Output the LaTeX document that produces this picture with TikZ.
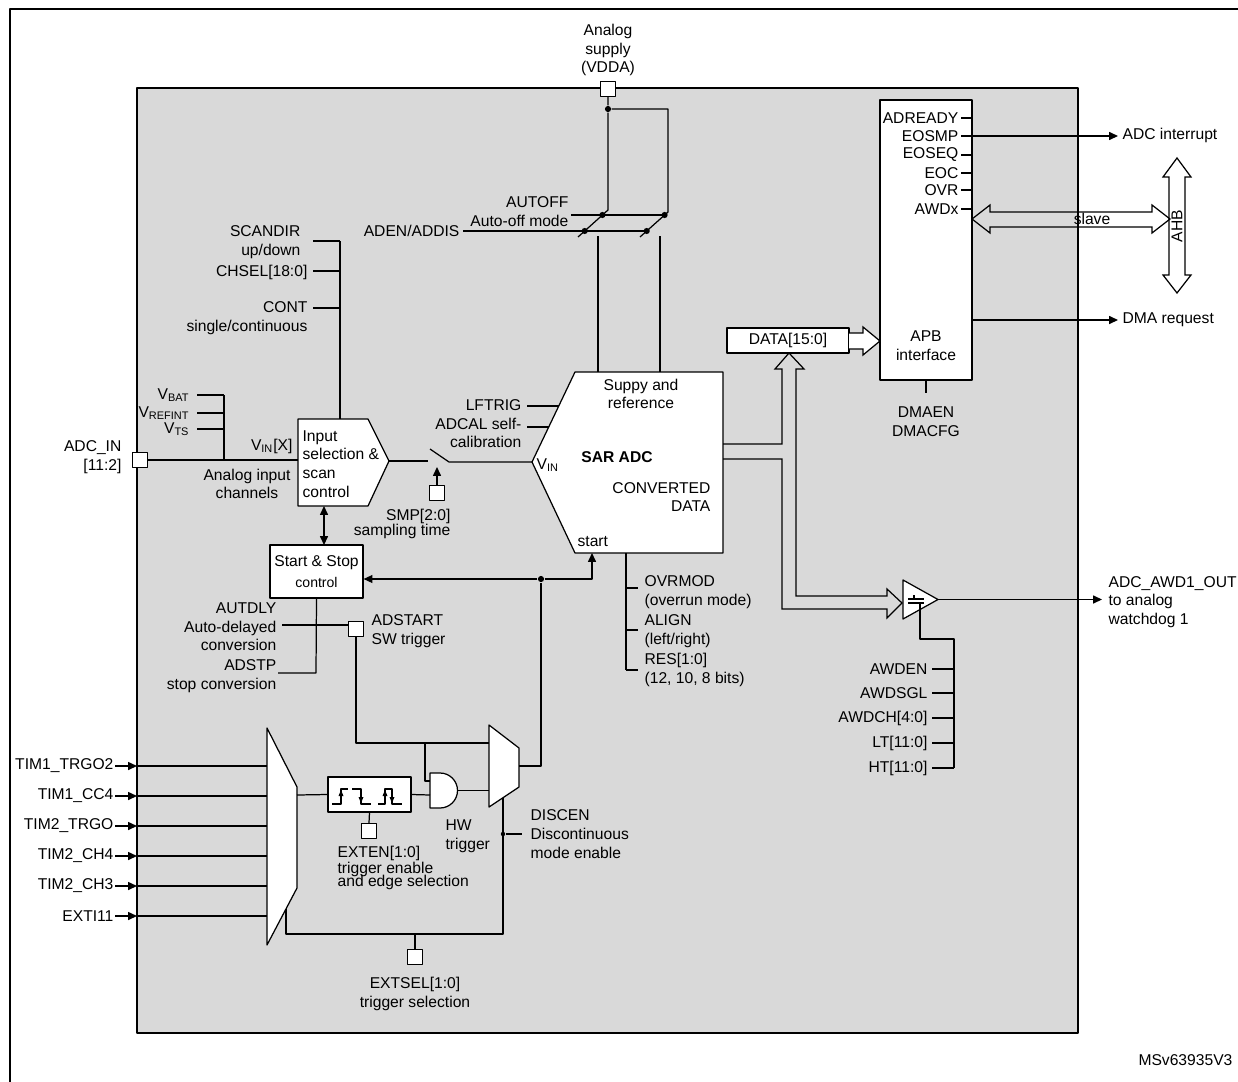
\documentclass[tikz,border=0pt]{standalone}
\usepackage{fontspec}
\setmainfont{Liberation Sans}
\usetikzlibrary{arrows.meta}
\definecolor{panel}{RGB}{217,217,217}
\newcommand{\lbl}{\fontsize{8.9}{10.6}\selectfont}
\newcommand{\sml}{\fontsize{8}{9}\selectfont}
\tikzset{
  blk/.style={draw, fill=white},
  pad/.style={draw, fill=white, minimum size=0.3cm, inner sep=0pt},
  fat/.style={draw, line join=miter},
  jn/.style={circle, fill, inner sep=0pt, minimum size=3.5pt},
  txt/.style={inner sep=0pt, align=#1},
  txt/.default=center
}
\begin{document}
\begin{tikzpicture}[x=0.02cm, y=-0.02cm, line width=0.7pt, line join=round, >={Triangle[length=5pt, width=4.5pt]}, font=\lbl]
\useasboundingbox (0,0) rectangle (1238,1082);
% frame and panel
\draw[line width=0.8pt] (10,1082) -- (10,9) -- (1238,9);
\draw[line width=1.6pt, fill=panel] (137,88) rectangle (1078,1033);

% analog supply and power switches
\node[pad] (vdda) at (608,89) {};
\node[txt] (vddalbl) at (608,50) {Analog\\supply\\(VDDA)};
\node[jn] (sup) at (608,109) {};
\coordinate (swa) at (608,210); \coordinate (swa2) at (578,237);
\coordinate (swb) at (668,212); \coordinate (swb2) at (640,237);
\draw (vdda.south) -- (sup) -- (swa) -- (swa2);
\draw (sup) -| (swb) -- (swb2);
\node[jn] (da1) at (602.4,215) {};
\node[jn] (da2) at (584.7,231) {};
\node[jn] (db1) at (664.6,215) {};
\node[jn] (db2) at (646.7,231) {};
\node[txt, anchor=east] (autoff) at (569,202) {AUTOFF};
\node[txt, anchor=east] (autom) at (569,221) {Auto-off mode};
\node[txt, anchor=east] (aden) at (460,231) {ADEN/ADDIS};
\draw (571,215) -- (db1.center);
\draw (aden.east) ++(3,0) -- (db2.center);

% SAR ADC
\draw[blk] (575,372) coordinate (sartl) -- (723,372) coordinate (sartr) -- (723,553) coordinate (sarbr)
  -- (575,553) coordinate (sarbl) -- (532,462) coordinate (sarin) -- cycle;
\draw (598,236) -- (598,372);
\draw (660,236) -- (660,372);
\node[txt] (supref) at (641,394) {Suppy and\\reference};
\node[txt] (sarlbl) at (617,457) {\bfseries SAR ADC};
\node[txt, anchor=west] (vin) at (536,465) {V\textsubscript{IN}};
\node[txt=right, anchor=east] (conv) at (711,497) {CONVERTED\\DATA};
\node[txt, anchor=west] (start) at (577,542) {start};
\node[txt, anchor=east] (lftrig) at (522,405) {LFTRIG};
\draw (527,406) -- (559,406);
\node[txt=right, anchor=east] (adcal) at (522,433) {ADCAL self-\\calibration};
\draw (527,427) -- (549,427);

% analog inputs and channel selection
\node[pad] (adcin) at (140,460) {};
\node[txt=right, anchor=east] (adcinlbl) at (122,457) {ADC\_IN\\{}[11:2]};
\draw[blk] (298,419) coordinate (instl) -- (368,419) -- (389,461) coordinate (inout)
  -- (368,506) -- (298,506) coordinate (insbl) -- cycle;
\node[txt=left, anchor=west] (inslbl) at (302,464) {Input\\selection \&\\scan\\control};
\draw (adcin.east) -- (298,460);
\foreach \n/\s/\y in {vbat/BAT/395, vref/REFINT/413, vts/TS/429} {
  \node[txt, anchor=east] (\n) at (190,\y) {V\textsubscript{\s}};
  \draw (197,\y) -- (224,\y);
}
\draw (224,395) -- (224,460);
\node[txt, anchor=east] (vinx) at (293,446) {V\textsubscript{IN}[X]};
\node[txt] (chan) at (247,484) {Analog input\\channels};
\draw (340,241) -- (340,419);
\foreach \y in {241,271,308} \draw (313,\y) -- (340,\y);
\node[txt=right, anchor=east] (scandir) at (301,242) {SCANDIR\\up/down};
\node[txt, anchor=east] (chsel) at (308,272) {CHSEL[18:0]};
\node[txt=right, anchor=east] (cont) at (308,318) {CONT\\single/continuous};

% sampling switch
\draw (inout) -- (428,461);
\draw (430,449) -- (449,462) -- (sarin);
\node[pad] (smp) at (437,493) {};
\draw[->] (smp.north) -- (437,467);
\node[txt=right, anchor=east] (smplbl) at (451,524) {SMP[2:0]\\[-1.7pt]sampling time};

% start and stop control
\node[blk, minimum width=1.86cm, minimum height=1.06cm, inner sep=0pt, align=center] (ss) at (316.5,571.5) {Start \& Stop\\[1pt]{\sml control}};
\draw[<->] (324,506) -- (324,545);
\node[jn] (tdot) at (541,579) {};
\draw[->] (tdot) -- (ss.east |- tdot);
\draw[->] (tdot) -| (592,553);
\node[pad] (adstart) at (356,629) {};
\draw (ss.south) -- (316,673) -- (278,673);
\draw (282,625) -- (348.5,625);
\node[txt=right, anchor=east] (autdly) at (277,627) {AUTDLY\\Auto-delayed\\conversion};
\node[txt=right, anchor=east] (adstp) at (277,676) {ADSTP\\stop conversion};
\node[txt=left, anchor=west] (adstartlbl) at (371,631) {ADSTART\\SW trigger};

% hardware trigger path
\draw[blk] (267,728) -- (297,787) -- (297,888) -- (267,945) -- cycle;
\foreach \s/\y [count=\i] in {TIM1\_TRGO2/766, TIM1\_CC4/796, TIM2\_TRGO/826, TIM2\_CH4/856, TIM2\_CH3/886, EXTI11/916} {
  \node[txt, anchor=east] (tim\i) at (114,\y) {\s};
  \draw[->] (115,\y) -- (137,\y);
  \draw (137,\y) -- (267,\y);
}
\node[blk, minimum width=1.66cm, minimum height=0.7cm, inner sep=0pt] (edge) at (369.5,794.5) {};
\draw (297,795) -- (edge.west);
\draw[line width=0.6pt] (332,804) -- (341,804) -- (341,789) -- (348,789);
\draw[line width=0.6pt] (352,789) -- (361,789) -- (361,804) -- (371,804);
\draw[line width=0.6pt] (378,804) -- (385,804) -- (385,789) -- (392,789) -- (392,804) -- (402,804);
\fill (341,790) -- (338.5,796) -- (343.5,796) -- cycle;
\fill (361,803) -- (358.5,797) -- (363.5,797) -- cycle;
\fill (385,790) -- (382.5,796) -- (387.5,796) -- cycle;
\fill (392,803) -- (389.5,797) -- (394.5,797) -- cycle;
\node[pad] (exten) at (369,831) {};
\draw (edge.south) -- (exten.north);
\node[txt, anchor=west] (extenlbl) at (337,853) {EXTEN[1:0]};
\node[txt, anchor=west] (trgen) at (337,869) {trigger enable};
\node[txt, anchor=west] (edgesel) at (337,882) {and edge selection};
\draw[blk] (430,773) -- (440,773) arc[start angle=-90, end angle=90, radius=17.5] -- (430,808) -- cycle;
\draw (edge.east) -- (430,795);
\draw (adstart.south) -- (356,743) -- (489,743);
\draw (425,743) -- (425,781) -- (430,781);
\node[txt=left, anchor=west] (hw) at (445,836) {HW\\trigger};
\draw[blk] (489,725) -- (519,748) -- (519,787) -- (489,807) -- cycle;
\draw (457.5,790.5) -- (489,790.5);
\draw (519,766) -| (tdot);
\draw (286,909) -- (286,934) -- (503,934) -- (503,798);
\node[pad] (extsel) at (415,957) {};
\draw (415,934) -- (extsel.north);
\node[txt] (extsellbl) at (415,994) {EXTSEL[1:0]\\trigger selection};
\node[jn, minimum size=2.5pt] (dis) at (503,834) {};
\draw (dis) -- (522,834);
\node[txt=left, anchor=west] (discen) at (530,834) {DISCEN\\Discontinuous\\mode enable};

% conversion options
\draw (626,553) -- (626,670);
\foreach \y in {588,630,670} \draw (626,\y) -- (638,\y);
\node[txt=left, anchor=west, font=\fontsize{8.9}{11.1}\selectfont] (opts) at (644,631) {OVRMOD\\(overrun mode)\\ALIGN\\(left/right)\\RES[1:0]\\(12, 10, 8 bits)};

% data path and bus interface
\node[blk, minimum width=2.44cm, minimum height=0.5cm, inner sep=0pt] (data) at (788,340.5) {DATA[15:0]};
\node[blk, minimum width=1.84cm, minimum height=5.6cm] (apb) at (926,240) {};
\draw[fat, fill=white] (849,333) -- (863,333) -- (863,327) -- (880,341) -- (863,355) -- (863,349) -- (849,349);
\draw[fat] (723,444) -- (782,444) -- (782,369) -- (775,369) -- (789,353) -- (804,369) -- (796,369)
  -- (796,596) -- (887,596) -- (887,589) -- (902,603) -- (887,618) -- (887,609) -- (782,609) -- (782,459) -- (723,459);
\foreach \s/\y [count=\i] in {ADREADY/118, EOSMP/136, EOSEQ/155, EOC/173, OVR/190, AWDx/209} {
  \node[txt, anchor=east] (flag\i) at (959,\y) {\s};
  \draw (961,\y) -- (972,\y);
}
\node[txt] (apblbl) at (926,346) {APB\\interface};
\draw (926,380) -- (926,393);
\node[txt] (dmalbl) at (926,422) {DMAEN\\DMACFG};
\draw[->] (972,136) -- (1118,136);
\node[txt, anchor=west] (irq) at (1122,135) {ADC interrupt};
\draw[->] (972,320) -- (1118,320);
\node[txt, anchor=west] (dmareq) at (1122,320) {DMA request};
\draw[fat] (972,219) -- (990,205) -- (990,212) -- (1152,212) -- (1152,205) -- (1170,219)
  -- (1152,233) -- (1152,227) -- (990,227) -- (990,233) -- cycle;
\node[txt] (slave) at (1092,219) {slave};
\draw[fat] (1177,158) -- (1191,177) -- (1185,177) -- (1185,275) -- (1191,275) -- (1177,293)
  -- (1163,275) -- (1169,275) -- (1169,177) -- (1163,177) -- cycle;
\node[txt, rotate=90] (ahb) at (1177,226) {AHB};

% analog watchdog
\draw[blk] (903,580) -- (938,599.5) coordinate (cmpo) -- (903,619) -- cycle;
\draw[line width=0.6pt] (908,599) -- (924,599) (908,603) -- (924,603) (914,595) -- (914,599);
\draw (920,603) -- (920,639) -- (954,639) -- (954,768);
\foreach \s/\y [count=\i] in {AWDEN/669, AWDSGL/693, AWDCH[4:0]/718, LT[11:0]/743, HT[11:0]/768} {
  \node[txt, anchor=east] (awd\i) at (928,\y) {\s};
  \draw (932,\y) -- (954,\y);
}
\draw[->] (cmpo) -- (1102,599.5);
\node[txt=left, anchor=west] (awdout) at (1108,602) {ADC\_AWD1\_OUT\\to analog\\watchdog 1};

\node[txt, anchor=east] (ref) at (1233,1060) {MSv63935V3};
\end{tikzpicture}
\end{document}
